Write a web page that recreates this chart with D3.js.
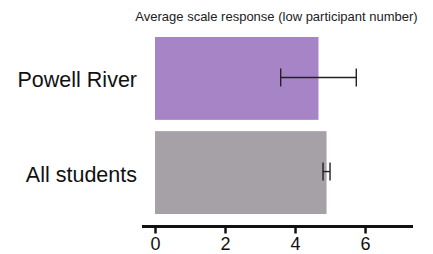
<!DOCTYPE html>
<html>
<head>
<meta charset="utf-8">
<script src="https://cdn.jsdelivr.net/npm/d3@7"></script>
<style>
  body { margin: 0; background: #fff; }
  svg { font-family: "Liberation Sans", Arial, sans-serif; }
</style>
</head>
<body>
<svg id="chart" width="433" height="254"></svg>
<script>
const groups = ["Powell River", "All students"];
const means = [4.67, 4.9];
const errors = [1.08, 0.1];
const barColors = ["#a784c6", "#a6a1a6"];
const ticks = [0, 2, 4, 6];
const title = "Average scale response (low participant number)";

const svg = d3.select("#chart");

const x = d3.scaleLinear()
    .domain([0, 7.37])
    .range([155, 413]);

const y = d3.scaleBand()
    .domain(groups)
    .range([37, 214])
    .paddingInner(0.12)
    .paddingOuter(0);

const rows = groups.map((g, i) => ({ group: g, mean: means[i], err: errors[i], color: barColors[i] }));

svg.append("text")
    .attr("x", 276.5)
    .attr("y", 20.5)
    .attr("text-anchor", "middle")
    .style("font-size", "13px")
    .style("fill", "#222")
    .text(title);

svg.selectAll(".bar")
    .data(rows)
    .enter()
    .append("rect")
    .attr("class", "bar")
    .attr("x", x(0))
    .attr("y", d => y(d.group))
    .attr("width", d => x(d.mean) - x(0))
    .attr("height", y.bandwidth())
    .style("fill", d => d.color);

// error bars
const eb = svg.selectAll(".err")
    .data(rows)
    .enter()
    .append("g")
    .attr("class", "err")
    .style("stroke", "#222")
    .style("stroke-width", "1.4px");

eb.append("line")
    .attr("x1", d => x(d.mean - d.err))
    .attr("x2", d => x(d.mean + d.err))
    .attr("y1", d => y(d.group) + y.bandwidth() / 2 - 1)
    .attr("y2", d => y(d.group) + y.bandwidth() / 2 - 1);

[-1, 1].forEach(s => {
    eb.append("line")
        .attr("x1", d => x(d.mean + s * d.err))
        .attr("x2", d => x(d.mean + s * d.err))
        .attr("y1", d => y(d.group) + y.bandwidth() / 2 - 10)
        .attr("y2", d => y(d.group) + y.bandwidth() / 2 + 8);
});

// category labels
svg.selectAll(".cat")
    .data(rows)
    .enter()
    .append("text")
    .attr("class", "cat")
    .attr("x", 137)
    .attr("y", d => y(d.group) + y.bandwidth() / 2 + 9)
    .attr("text-anchor", "end")
    .style("font-size", "21.5px")
    .style("fill", "#111")
    .text(d => d.group);

// x axis
const axis = svg.append("g")
    .attr("transform", "translate(0,226.5)")
    .call(d3.axisBottom(x).tickValues(ticks).tickSize(7).tickSizeOuter(0).tickFormat(d3.format("d")));

axis.select(".domain").remove();
axis.append("line")
    .attr("x1", 142)
    .attr("x2", 413)
    .style("stroke", "#111")
    .style("stroke-width", "3px");
axis.selectAll(".tick line")
    .style("stroke", "#111")
    .style("stroke-width", "2.5px");
axis.selectAll(".tick text")
    .attr("y", 10.5)
    .style("font-family", "Liberation Sans, Arial, sans-serif")
    .style("font-size", "18px")
    .style("fill", "#111");
</script>
</body>
</html>
